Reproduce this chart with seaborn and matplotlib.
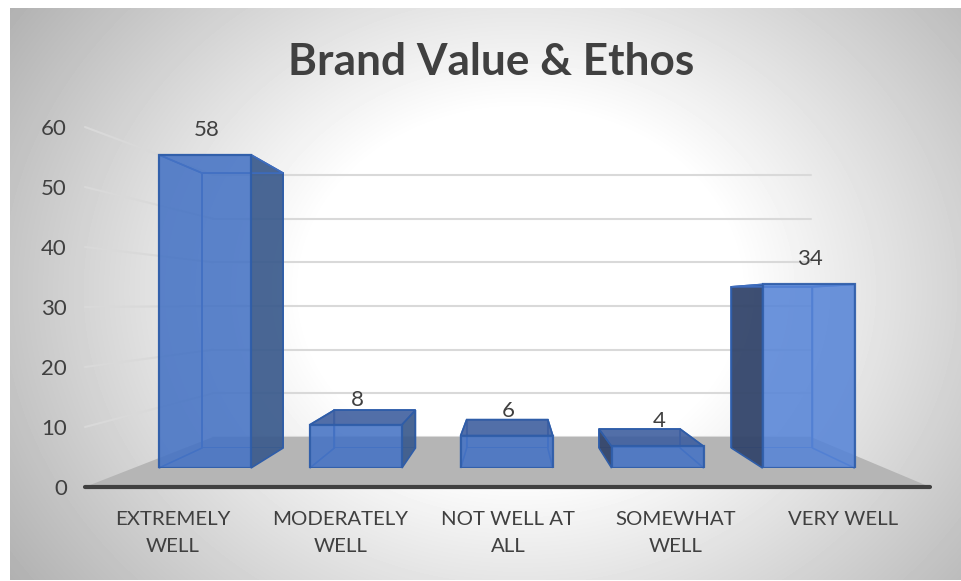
import numpy as np
import matplotlib
matplotlib.use("Agg")
import matplotlib.pyplot as plt
from matplotlib.patches import Polygon
from matplotlib.lines import Line2D
import seaborn as sns

categories = ["EXTREMELY", "MODERATELY", "NOT WELL AT", "SOMEWHAT", "VERY WELL"]
tick_labels = ["EXTREMELY\nWELL", "MODERATELY\nWELL", "NOT WELL AT\nALL", "SOMEWHAT\nWELL", "VERY WELL"]
values = [58, 8, 6, 4, 34]
y_ticks = [0, 10, 20, 30, 40, 50, 60]

W, H = 961, 581
TEXT = "#404040"
GRID = "#D9D9D9"
FACE = "#4472C4"
EDGE = "#2F5DA8"
INNER = "#3F6DBE"

sns.set_theme(style="white")
plt.rcParams["font.family"] = ["Lato", "DejaVu Sans"]

fig = plt.figure(figsize=(W / 100, H / 100), dpi=100, facecolor="white")


def axes_px(left, top, right, bottom, zorder):
    a = fig.add_axes([left / W, 1 - bottom / H, (right - left) / W, (bottom - top) / H], zorder=zorder)
    a.patch.set_alpha(0)
    return a


def to_fig(a, x, y):
    return fig.transFigure.inverted().transform(a.transData.transform((x, y)))


# background gradient
bg = axes_px(10, 8, 961, 580, 0)
xx, yy = np.meshgrid(np.arange(10, 961), np.arange(8, 580))
r = np.sqrt(((xx - 520) / 520) ** 2 + ((yy - 290) / 430) ** 2)
shade = 1 - 0.4 * np.clip(r - 0.42, 0, None)
bg.imshow(shade, cmap="gray", vmin=0, vmax=1, aspect="auto", interpolation="bilinear")
bg.axis("off")

# near axis: tick labels and the baseline
ax = axes_px(85, 127, 930, 487, 3)
ax.set_xlim(-0.525, 4.519)
ax.set_ylim(0, 60)
ax.set_yticks(y_ticks)
ax.set_xticks(range(5), tick_labels)
ax.tick_params(axis="x", length=0, pad=17, labelsize=14.7, labelcolor=TEXT)
ax.tick_params(axis="y", length=0, pad=13, labelsize=16, labelcolor=TEXT)
for label in ax.get_xticklabels():
    label.set_linespacing(1.75)
sns.despine(ax=ax, left=True)
ax.spines["bottom"].set_color(TEXT)
ax.spines["bottom"].set_linewidth(3)
ax.spines["bottom"].set_capstyle("round")

# back wall gridlines
wall = axes_px(213, 175, 811, 437, 1)
wall.set_xlim(-0.5, 4.5)
wall.set_ylim(0, 60)
wall.set_yticks(y_ticks)
wall.set_xticks([])
wall.set_yticklabels([])
wall.grid(axis="y", color=GRID, linewidth=1.5, clip_on=False)
wall.tick_params(length=0)
sns.despine(ax=wall, left=True, bottom=True)

# side wall gridlines and floor
near_left, near_right = ax.get_xlim()
for v in y_ticks[1:]:
    p0 = to_fig(ax, near_left, v)
    p1 = to_fig(wall, -0.5, v)
    fig.add_artist(Line2D([p0[0], p1[0]], [p0[1], p1[1]], color=GRID, lw=1.5, zorder=1))
floor = [to_fig(ax, near_left, 0), to_fig(ax, near_right, 0), to_fig(wall, 4.5, 0), to_fig(wall, -0.5, 0)]
fig.add_artist(Polygon(floor, closed=True, transform=fig.transFigure, facecolor="#B5B5B5", edgecolor="none", zorder=2))

# bars: back faces and front faces share the category scale at two depths
back = axes_px(176.4, 163.6, 838.1, 448, 4)
sns.barplot(x=categories, y=values, ax=back, width=0.6125, facecolor="none", edgecolor=INNER, linewidth=1.2)
back.set_ylim(0, 60)
back.axis("off")

front = axes_px(129.5, 144, 884, 468, 6)
sns.barplot(x=categories, y=values, ax=front, width=0.61, color=FACE, saturation=1, alpha=0.87,
            edgecolor=EDGE, linewidth=1.6)
front.patches[-1].set_facecolor("#5684D7")
front.patches[-1].set_alpha(0.87)
front.set_ylim(0, 60)
front.axis("off")

# depth faces between matching bars
for bf, bb in zip(front.patches, back.patches):
    fx0, fx1 = bf.get_x(), bf.get_x() + bf.get_width()
    bx0, bx1 = bb.get_x(), bb.get_x() + bb.get_width()
    top = bf.get_height()
    fl, fr = to_fig(front, fx0, 0), to_fig(front, fx1, 0)
    ftl, ftr = to_fig(front, fx0, top), to_fig(front, fx1, top)
    bl, br = to_fig(back, bx0, 0), to_fig(back, bx1, 0)
    btl, btr = to_fig(back, bx0, top), to_fig(back, bx1, top)
    left_face = bl[0] < fl[0]
    right_face = br[0] > fr[0]
    top_face = btl[1] > ftl[1]
    faces = [
        ([fl, bl, btl, ftl], "#33456B" if left_face else "none", 0.95),
        ([fr, br, btr, ftr], "#3A5A8C" if right_face else "none", 0.92),
        ([ftl, ftr, btr, btl], "#3F5F9F" if top_face else "none", 0.9),
    ]
    for pts, fc, alpha in faces:
        if fc != "none":
            fig.add_artist(Polygon(pts, closed=True, transform=fig.transFigure, facecolor=fc, alpha=alpha,
                                   edgecolor="none", zorder=5))
        fig.add_artist(Polygon(pts, closed=True, transform=fig.transFigure, facecolor="none",
                               edgecolor=EDGE if fc != "none" else INNER, linewidth=1.2, zorder=5))

for i, v in enumerate(values):
    front.annotate(str(v), (i, v), xytext=(1, 18), textcoords="offset points", ha="center", va="center",
                   fontsize=16, color=TEXT, annotation_clip=False)

fig.text(491 / W, 1 - 62 / H, "Brand Value & Ethos", ha="center", va="center", fontsize=31.8, fontweight="bold", color=TEXT)

fig.savefig("out.png", dpi=100)
